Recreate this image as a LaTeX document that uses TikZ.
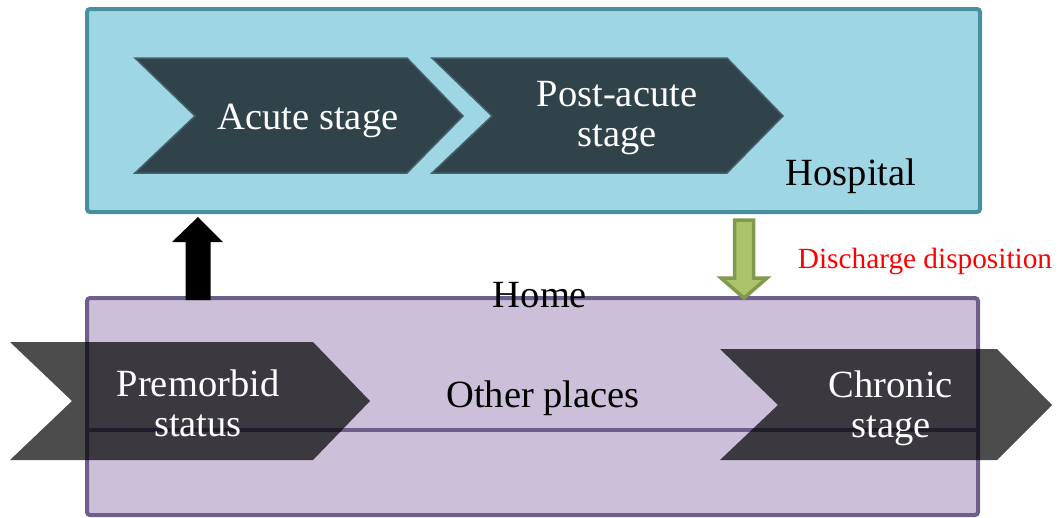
\documentclass[tikz,border=0pt]{standalone}
\usepackage{fontspec}
\setmainfont{Liberation Serif}
\usetikzlibrary{calc}
\definecolor{hospfill}{HTML}{9FD6E3}
\definecolor{hospline}{HTML}{47909F}
\definecolor{homefill}{HTML}{CBBFD9}
\definecolor{homeline}{HTML}{6F5E8C}
\definecolor{chevdark}{HTML}{30434A}
\definecolor{chevedge}{HTML}{45606A}
\definecolor{greenfill}{HTML}{ABC46B}
\definecolor{greenline}{HTML}{7F9A4A}
\definecolor{redtext}{HTML}{FF0000}
\tikzset{
  box/.style={rectangle, rounded corners=3pt, line width=4pt, inner sep=0pt},
  hospbox/.style={box, draw=hospline, fill=hospfill, minimum width=893pt, minimum height=203pt},
  homebox/.style={box, draw=homeline, fill=homefill, minimum width=891pt, minimum height=217pt},
  hospchev/.style={fill=chevdark, draw=chevedge, line width=1.5pt, line join=miter},
  homechev/.style={fill=black, fill opacity=0.7, draw=none},
  bigtext/.style={font=\fontsize{38.5}{40}\selectfont, align=center, inner sep=0pt},
  chevtext/.style={bigtext, text=white},
  plaintext/.style={bigtext, text=black},
  redlabel/.style={font=\fontsize{29.3}{32}\selectfont, text=redtext, inner sep=0pt},
}
\begin{document}
\begin{tikzpicture}[x=1pt, y=-1pt]
\useasboundingbox (0,0) rectangle (1059,517);

% boxes
\node[hospbox] (hosp) at (533.5,110.5) {};
\node[homebox] (home) at (532.5,406.5) {};
\draw[homeline, line width=4pt] (home.west |- 0,430) coordinate (divl) -- (home.east |- 0,430) coordinate (divr);

% hospital chevrons
\draw[hospchev] (135,58) -- (407,58) -- (463,116) -- (407,173) -- (135,173) -- (195,116) -- cycle;
\draw[hospchev] (432,58) -- (727,58) -- (783,116) -- (727,173) -- (432,173) -- (492,116) -- cycle;
\node[chevtext] (acute) at (308,121) {Acute stage};
\node[chevtext] (post) at (617,118) {Post-acute\\stage};
\node[plaintext, anchor=base] (hosplabel) at (851,185.5) {Hospital};

% home chevrons (semi-transparent)
\path[homechev] (10,342) -- (313,342) -- (370,401) -- (313,460) -- (10,460) -- (72,401) -- cycle;
\path[homechev] (720,349) -- (997,349) -- (1052,405) -- (997,460) -- (720,460) -- (778,405) -- cycle;
\node[chevtext] (premorbid) at (198,403) {Premorbid\\status};
\node[chevtext] (chronic) at (891,408) {Chronic\\stage};
\node[plaintext] (other) at (543,398) {Other places};
\node[plaintext, anchor=base] (homelabel) at (540,307) {Home};

% black up arrow: from Home box to Hospital box
\coordinate (ua) at (home.north -| 198,0);
\coordinate (ub) at ($(hosp.south -| 198,0)+(0,3)$);
\fill[black] ($(ua)+(-12.5,4)$) -- ($(ub)+(-12.5,25)$) -- ($(ub)+(-26,25)$) -- (ub)
  -- ($(ub)+(25,25)$) -- ($(ub)+(12.5,25)$) -- ($(ua)+(12.5,4)$) -- cycle;

% green down arrow: from Hospital box to Home box
\coordinate (da) at ($(hosp.south -| 744,0)+(0,4)$);
\coordinate (db) at ($(home.north -| 744,0)+(0,4)$);
\draw[greenline, fill=greenfill, line width=3.5pt, line join=miter]
  ($(da)+(-9.5,2)$) -- ($(db)+(-9.5,-22)$) -- ($(db)+(-23,-22)$) -- ($(db)+(0,-2)$)
  -- ($(db)+(23,-22)$) -- ($(db)+(9.5,-22)$) -- ($(da)+(9.5,2)$) -- cycle;
\node[redlabel] (discharge) at (925,261) {Discharge disposition};
\end{tikzpicture}
\end{document}
